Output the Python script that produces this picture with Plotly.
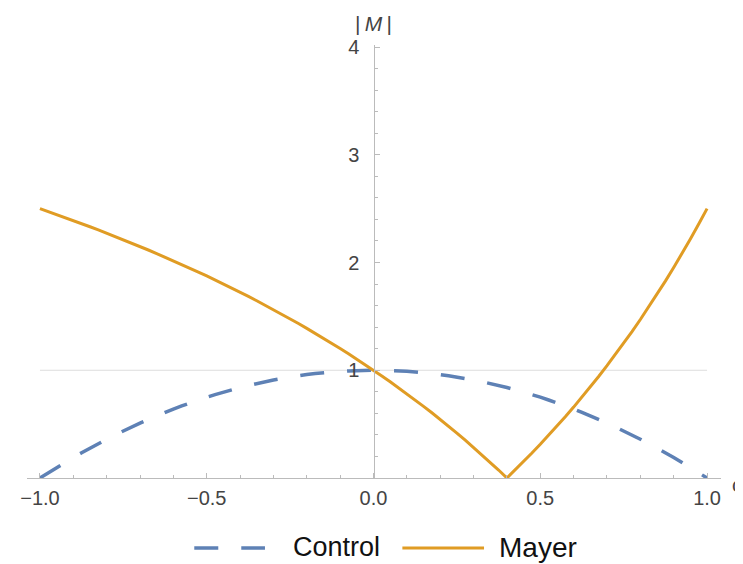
import plotly.graph_objects as go

# ---- data ----
c_values = [-1.000, -0.975, -0.950, -0.925, -0.900, -0.875, -0.850, -0.825, -0.800, -0.775,
            -0.750, -0.725, -0.700, -0.675, -0.650, -0.625, -0.600, -0.575, -0.550, -0.525,
            -0.500, -0.475, -0.450, -0.425, -0.400, -0.375, -0.350, -0.325, -0.300, -0.275,
            -0.250, -0.225, -0.200, -0.175, -0.150, -0.125, -0.100, -0.075, -0.050, -0.025,
            0.000, 0.025, 0.050, 0.075, 0.100, 0.125, 0.150, 0.175, 0.200, 0.225,
            0.250, 0.275, 0.300, 0.325, 0.350, 0.375, 0.400, 0.425, 0.450, 0.475,
            0.500, 0.525, 0.550, 0.575, 0.600, 0.625, 0.650, 0.675, 0.700, 0.725,
            0.750, 0.775, 0.800, 0.825, 0.850, 0.875, 0.900, 0.925, 0.950, 0.975, 1.000]

control = [0.000, 0.049, 0.098, 0.144, 0.190, 0.234, 0.278, 0.319, 0.360, 0.399,
           0.438, 0.474, 0.510, 0.544, 0.578, 0.609, 0.640, 0.669, 0.698, 0.724,
           0.750, 0.774, 0.798, 0.819, 0.840, 0.859, 0.878, 0.894, 0.910, 0.924,
           0.938, 0.949, 0.960, 0.969, 0.978, 0.984, 0.990, 0.994, 0.998, 0.999,
           1.000, 0.999, 0.998, 0.994, 0.990, 0.984, 0.978, 0.969, 0.960, 0.949,
           0.938, 0.924, 0.910, 0.894, 0.878, 0.859, 0.840, 0.819, 0.798, 0.774,
           0.750, 0.724, 0.698, 0.669, 0.640, 0.609, 0.578, 0.544, 0.510, 0.474,
           0.438, 0.399, 0.360, 0.319, 0.278, 0.234, 0.190, 0.144, 0.098, 0.049, 0.000]

mayer = [2.500, 2.473, 2.446, 2.418, 2.390, 2.361, 2.332, 2.303, 2.273, 2.242,
         2.212, 2.180, 2.148, 2.116, 2.083, 2.050, 2.016, 1.982, 1.947, 1.911,
         1.875, 1.838, 1.801, 1.763, 1.724, 1.685, 1.645, 1.604, 1.563, 1.520,
         1.477, 1.434, 1.389, 1.344, 1.297, 1.250, 1.202, 1.153, 1.103, 1.052,
         1.000, 0.947, 0.893, 0.838, 0.781, 0.724, 0.665, 0.605, 0.544, 0.481,
         0.417, 0.351, 0.284, 0.216, 0.145, 0.074, 0.000, 0.075, 0.152, 0.232,
         0.313, 0.396, 0.481, 0.568, 0.658, 0.750, 0.845, 0.942, 1.042, 1.144,
         1.250, 1.359, 1.471, 1.586, 1.705, 1.827, 1.953, 2.083, 2.218, 2.357, 2.500]

x_ticks = [-1.0, -0.5, 0.0, 0.5, 1.0]
y_ticks = [1, 2, 3, 4]
series_names = ["Control", "Mayer"]

BLUE = "#5E81B5"
ORANGE = "#E09C24"
TICKCOL = "#444444"
AXCOL = "#BBBBBB"
FONT = "Liberation Sans, Arial, sans-serif"

OFF = 8  # page body margin
W, H = 743 - OFF, 564 - OFF
ML, MR, MT, MB = 24 - OFF, 22, 45 - OFF, 86
PW, PH = W - ML - MR, H - MT - MB

def px(xp):  # reference pixel x -> paper fraction
    return (xp - OFF - ML) / PW

def py(yp):  # reference pixel y -> paper fraction
    return (H - MB - (yp - OFF)) / PH

fig = go.Figure()
fig.add_trace(go.Scatter(x=c_values, y=control, mode="lines", name=series_names[0],
                         line=dict(color=BLUE, width=3.5, dash="24px,23px"),
                         showlegend=False, cliponaxis=False))
fig.add_trace(go.Scatter(x=c_values, y=mayer, mode="lines", name=series_names[1],
                         line=dict(color=ORANGE, width=3),
                         showlegend=False, cliponaxis=False))

xr = [-1 - 13 / 335, -1 - 13 / 335 + PW / 335]
yr = [0, PH / 107.75]

fig.update_layout(
    width=W, height=H,
    margin=dict(l=ML, r=MR, t=MT, b=MB),
    paper_bgcolor="white", plot_bgcolor="white",
    font=dict(family=FONT, size=19, color=TICKCOL),
    xaxis=dict(range=xr, showgrid=False, zeroline=False, showline=True,
               linecolor=AXCOL, linewidth=1.2,
               tickmode="array", tickvals=x_ticks,
               ticktext=[f"{v:.1f}".replace("-", "\u2212") for v in x_ticks],
               ticks="inside", ticklen=5, tickcolor=AXCOL, tickwidth=1,
               ticklabelstandoff=2,
               tickfont=dict(size=20, color=TICKCOL),
               minor=dict(dtick=0.1, tick0=0, ticks="inside", ticklen=3, tickcolor=AXCOL),
               fixedrange=True),
    yaxis=dict(range=yr, showgrid=False, zeroline=False, showline=True,
               linecolor=AXCOL, linewidth=1.2, anchor="free",
               position=(0 - xr[0]) / (xr[1] - xr[0]),
               tickmode="array", tickvals=y_ticks, ticktext=[str(v) for v in y_ticks],
               ticks="inside", ticklen=5, tickcolor=AXCOL, tickwidth=1,
               ticklabelstandoff=10,
               tickfont=dict(size=20, color=TICKCOL),
               minor=dict(dtick=0.2, tick0=0, ticks="inside", ticklen=3, tickcolor=AXCOL),
               fixedrange=True),
    shapes=[
        dict(type="line", xref="x", yref="y", x0=-1, x1=1, y0=1, y1=1,
             line=dict(color="#DDDDDD", width=1), layer="below"),
        dict(type="line", xref="paper", yref="paper", x0=px(192), x1=px(263), y0=py(548), y1=py(548),
             line=dict(color=BLUE, width=3.5, dash="24px,23px")),
        dict(type="line", xref="paper", yref="paper", x0=px(401), x1=px(483), y0=py(548), y1=py(548),
             line=dict(color=ORANGE, width=3)),
    ],
    annotations=[
        dict(text="|\u2009<i>M</i>\u2009|", x=0, xref="x", y=py(23), yref="paper", showarrow=False,
             xanchor="center", yanchor="middle", font=dict(size=21, color=TICKCOL)),
        dict(text="c", x=px(730), xref="paper", y=py(485), yref="paper", showarrow=False,
             xanchor="left", yanchor="middle", font=dict(size=20, color=TICKCOL)),
        dict(text=series_names[0], x=px(289), xref="paper", y=py(547), yref="paper", showarrow=False,
             xanchor="left", yanchor="middle", font=dict(size=27, color="#111111")),
        dict(text=series_names[1], x=px(496), xref="paper", y=py(547), yref="paper", showarrow=False,
             xanchor="left", yanchor="middle", font=dict(size=28, color="#111111")),
    ],
)

fig.write_html("out.html")
